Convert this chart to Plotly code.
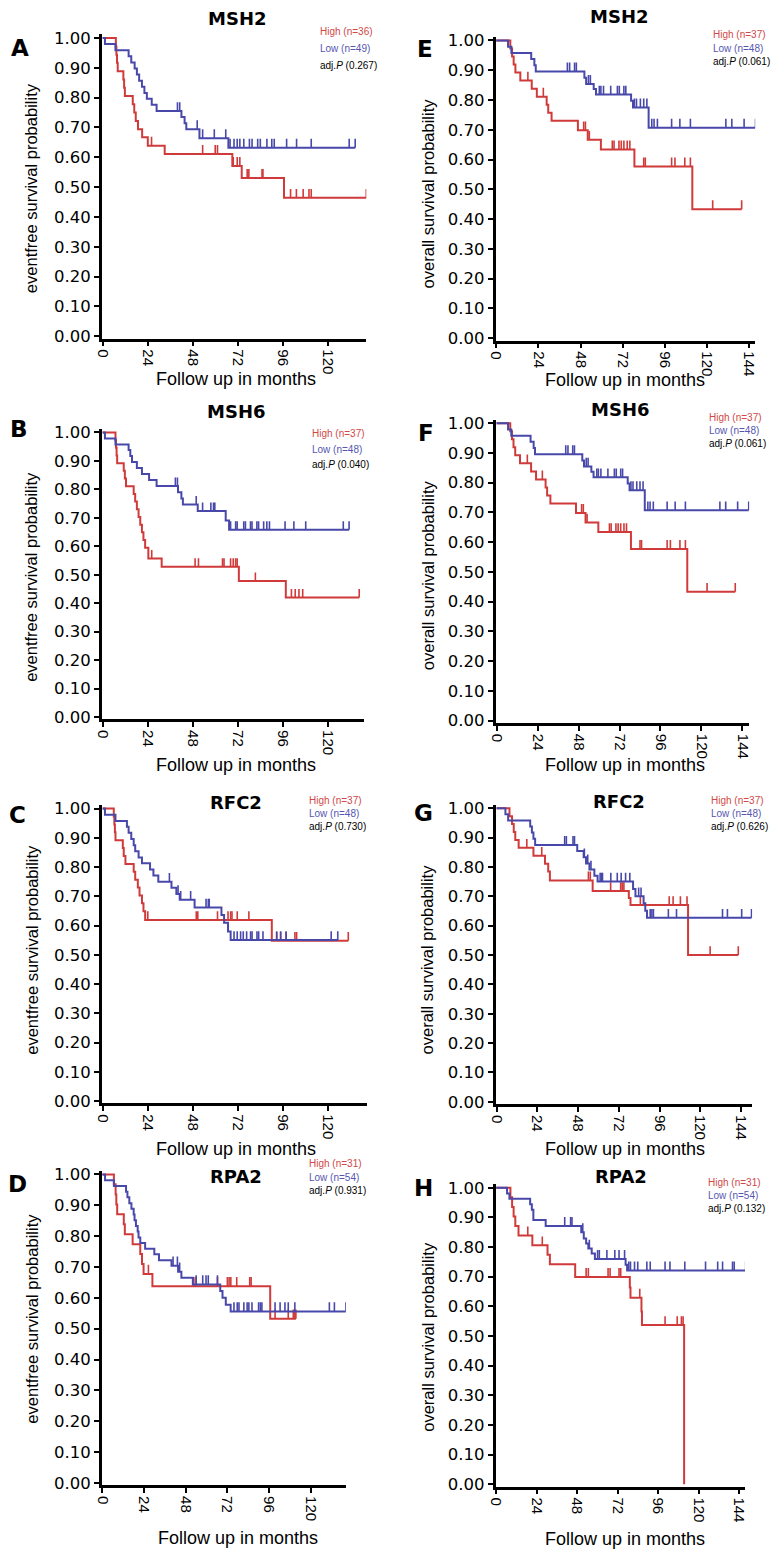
import plotly.graph_objects as go

W, H = 771, 1558

# ---------------- data (months, survival probability) ----------------
xt_efs = [0, 24, 48, 72, 96, 120]
xt_os = [0, 24, 48, 72, 96, 120, 144]
yt = [0.0, 0.1, 0.2, 0.3, 0.4, 0.5, 0.6, 0.7, 0.8, 0.9, 1.0]
yt_text = ["0.00", "0.10", "0.20", "0.30", "0.40", "0.50", "0.60", "0.70", "0.80", "0.90", "1.00"]

# A: MSH2 event-free
A_red_t = [7, 7.3, 7.6, 8, 11, 11.4, 11.8, 16, 16.8, 17.6, 18.8, 21, 24, 33, 69, 74, 96.5]
A_red_s = [0.972, 0.944, 0.917, 0.889, 0.861, 0.833, 0.806, 0.778, 0.75, 0.722, 0.694, 0.667, 0.639, 0.611, 0.571, 0.531, 0.464]
A_red_c = [26, 53.2, 59.9, 61.1, 69.5, 71.6, 73, 76.9, 77.8, 84.8, 85.3, 100, 103.1, 106.7, 109.8, 111, 140.3]
A_blue_t = [1.2, 6.8, 13.8, 15.2, 17, 18.2, 19.4, 20.9, 22.2, 23.5, 26.1, 28.7, 41.9, 43.6, 44.5, 51.5, 66.9]
A_blue_s = [0.980, 0.959, 0.939, 0.918, 0.898, 0.878, 0.857, 0.837, 0.816, 0.796, 0.776, 0.755, 0.735, 0.714, 0.694, 0.664, 0.632]
A_blue_c = [39.8, 41, 50.3, 53.2, 59.4, 65.5, 67.8, 69.9, 71.6, 73, 75.1, 78.1, 79.5, 82.5, 83.9, 87.4, 90, 91.3, 97.9, 103.2, 111, 131.2, 134.4]

# E: MSH2 overall
E_red_t = [8, 9, 9.9, 10.9, 13.7, 20.2, 23.1, 28.7, 29.6, 31.5, 46.5, 52.1, 59.6, 78.7, 111.7]
E_red_s = [0.973, 0.946, 0.919, 0.892, 0.865, 0.838, 0.811, 0.784, 0.757, 0.730, 0.698, 0.666, 0.634, 0.577, 0.433]
E_red_c = [18, 26.8, 49.8, 50.8, 53, 66.1, 67.1, 69.9, 71.2, 72.7, 74.6, 76.1, 84, 84.9, 99.9, 101.8, 107.4, 110.6, 123.3, 139.8]
E_blue_t = [6.7, 8.6, 19.9, 21.7, 22.5, 50.2, 51.2, 55.5, 56.8, 76.8, 77.9, 86.8]
E_blue_s = [0.979, 0.958, 0.938, 0.917, 0.896, 0.875, 0.854, 0.837, 0.818, 0.797, 0.775, 0.707]
E_blue_c = [40.5, 41.8, 44.6, 45.6, 52.5, 53.6, 58.7, 59.6, 61.1, 65.2, 69, 70.1, 72.7, 73.8, 78.7, 79.9, 82.1, 84,
            85.8, 88.6, 89.9, 91.8, 99.9, 104.6, 110.6, 130.8, 134.2, 141.2, 147.7]

# B: MSH6 event-free
B_red_t = [6.8, 7.1, 7.4, 7.7, 11.2, 11.8, 12.4, 16.5, 17.3, 18.2, 19.1, 20, 20.9, 21.7, 22.6, 24.3, 31.4, 72.5, 97.5]
B_red_s = [0.973, 0.946, 0.919, 0.892, 0.865, 0.838, 0.811, 0.784, 0.757, 0.730, 0.703, 0.676, 0.649, 0.622, 0.595, 0.557, 0.528, 0.478, 0.42]
B_red_c = [26.1, 49.2, 51, 63.8, 64.6, 68.1, 69.5, 70.8, 71.6, 81.3, 100.5, 102.5, 104.5, 106.5, 136.6]
B_blue_t = [1.2, 6.8, 13.8, 14.7, 15.6, 18.2, 20.9, 24.7, 28.7, 40.1, 41.9, 42.7, 50.6, 65.5, 67.3]
B_blue_s = [0.979, 0.958, 0.938, 0.917, 0.896, 0.875, 0.854, 0.833, 0.812, 0.790, 0.768, 0.747, 0.724, 0.691, 0.658]
B_blue_c = [38.7, 39.8, 49.8, 53.2, 57.6, 59, 59.7, 68.1, 70.8, 71.6, 75.1, 76, 78.7, 79.5, 82.1, 83, 85.7, 87.4, 88.8,
            97.1, 101.8, 108.1, 128.1, 131.2]

# F: MSH6 overall (same curves as E)
F_red_t, F_red_s, F_red_c = E_red_t, E_red_s, E_red_c
F_blue_t, F_blue_s, F_blue_c = E_blue_t, E_blue_s, E_blue_c

# C: RFC2 event-free
C_red_t = [5.9, 6.2, 6.5, 6.8, 10.7, 11.2, 12.1, 16.5, 17.3, 18.7, 19.6, 20.9, 21.7, 22.6, 90]
C_red_s = [0.973, 0.946, 0.919, 0.892, 0.865, 0.838, 0.811, 0.784, 0.757, 0.730, 0.703, 0.676, 0.649, 0.619, 0.548]
C_red_c = [24, 49.8, 50.6, 61.1, 66.7, 68.1, 68.8, 71.6, 77.8, 92.6, 94.7, 97.6, 102.3, 103.2, 130.7]
C_blue_t = [1.2, 6.8, 12.9, 13.8, 15.2, 16.5, 17.3, 19.1, 20.9, 25.2, 27, 29.6, 36.6, 39.2, 41, 48.9, 63.2, 64.6, 66.7, 68.1]
C_blue_s = [0.979, 0.958, 0.938, 0.917, 0.896, 0.875, 0.854, 0.833, 0.813, 0.792, 0.771, 0.750, 0.729, 0.708, 0.688,
            0.662, 0.636, 0.610, 0.580, 0.551]
C_blue_c = [35.5, 40.1, 41.5, 46.8, 55, 56.2, 56.7, 69.9, 71.6, 73.4, 74.8, 76.6, 78.7, 79.5, 82.1, 83, 85.3, 92.6,
            94.7, 97.6, 121.6, 125.1]

# G: RFC2 overall
G_red_t = [7.6, 9.1, 10.1, 11, 13, 21.7, 28.5, 30.4, 31.4, 56.6, 77.9, 78.9, 112.8]
G_red_s = [0.973, 0.946, 0.919, 0.892, 0.865, 0.838, 0.811, 0.784, 0.754, 0.718, 0.694, 0.670, 0.50]
G_red_c = [17.8, 26.6, 54.1, 55.2, 67.2, 73.1, 74, 75, 84.7, 101.7, 104, 108.3, 112.2, 125.8, 142.4]
G_blue_t = [5.2, 6.8, 19.8, 20.8, 21.7, 22.7, 47.5, 51.3, 52.7, 54.7, 57.6, 59.5, 80.4, 81.8, 86.6, 87.6, 88.6]
G_blue_s = [0.979, 0.958, 0.938, 0.917, 0.896, 0.875, 0.854, 0.833, 0.812, 0.791, 0.770, 0.750, 0.725, 0.700, 0.676,
            0.651, 0.627]
G_blue_c = [40.1, 41.1, 45, 45.9, 51.7, 53.7, 55.6, 61, 61.8, 62.4, 67.3, 71.1, 73.4, 76, 78.5, 83.7, 85.1, 90.5, 91.5,
            92.4, 101.2, 106, 133.1, 136, 144.4, 150.2]

# D: RPA2 event-free
D_red_t = [6.6, 7.6, 8, 8.5, 12.3, 12.9, 17.4, 21.8, 22.8, 23.7, 28.8, 96.7]
D_red_s = [0.968, 0.935, 0.903, 0.871, 0.839, 0.806, 0.774, 0.742, 0.710, 0.677, 0.638, 0.532]
D_red_c = [26.5, 52.7, 54, 66.3, 72, 73, 74, 77.4, 84.9, 85.7, 99.5, 107.1, 110, 110.9, 111.5]
D_blue_t = [1.5, 6.6, 13.6, 14.4, 15.5, 16.7, 18, 18.5, 19.3, 20.3, 20.8, 21.8, 24.6, 29.9, 32.6, 39.8, 43.6, 45.5,
            52.1, 67.9, 69.2, 71.1, 73.9]
D_blue_s = [0.981, 0.963, 0.944, 0.926, 0.907, 0.889, 0.870, 0.852, 0.833, 0.815, 0.796, 0.778, 0.759, 0.741, 0.722,
            0.704, 0.685, 0.665, 0.643, 0.622, 0.600, 0.578, 0.556]
D_blue_c = [40.7, 43.2, 44.5, 54, 57.8, 59.7, 61, 66.3, 75.8, 77.7, 78.7, 81.5, 83.4, 84.4, 86.2, 90, 91, 91.9, 99.5,
            102.4, 105.2, 107.1, 110.9, 130.8, 133.7, 140.3]

# H: RPA2 overall
H_red_t = [8.4, 9.4, 10.3, 11.3, 13.2, 21.4, 30.4, 31.8, 46.8, 79.2, 79.6, 86.1, 86.4, 111.4]
H_red_s = [0.968, 0.935, 0.903, 0.871, 0.839, 0.806, 0.774, 0.742, 0.699, 0.664, 0.629, 0.583, 0.537, 0.0]
H_red_c = [18.7, 27.3, 53.3, 54.6, 66.3, 67.5, 72.8, 73.8, 85.1, 100.1, 107.3, 109.8, 110.8]
H_blue_t = [6.4, 7.8, 20.1, 21.1, 22, 29.3, 50.4, 51.9, 53.3, 54.6, 56.6, 58.5, 76.7, 77.6]
H_blue_s = [0.981, 0.963, 0.944, 0.926, 0.891, 0.871, 0.850, 0.829, 0.812, 0.795, 0.778, 0.760, 0.740, 0.721]
H_blue_c = [40.6, 44.1, 44.9, 51.3, 55.2, 60.1, 61.1, 65.6, 70.3, 72.8, 76.1, 78.6, 79.6, 82, 83.9, 89.3, 91.3, 100.1,
            103, 111.8, 124.1, 131.3, 134.2, 140.1, 141.1, 147.9]

genes = ["MSH2", "MSH6", "RFC2", "RPA2", "MSH2", "MSH6", "RFC2", "RPA2"]
letters = ["A", "B", "C", "D", "E", "F", "G", "H"]
n_high = [36, 37, 37, 31, 37, 37, 37, 31]
n_low = [49, 48, 48, 54, 48, 48, 48, 54]
adj_p = ["0.267", "0.040", "0.730", "0.931", "0.061", "0.061", "0.626", "0.132"]
ylabels = ["eventfree survival probability"] * 4 + ["overall survival probability"] * 4

curves = [
    (A_red_t, A_red_s, A_red_c, A_blue_t, A_blue_s, A_blue_c),
    (B_red_t, B_red_s, B_red_c, B_blue_t, B_blue_s, B_blue_c),
    (C_red_t, C_red_s, C_red_c, C_blue_t, C_blue_s, C_blue_c),
    (D_red_t, D_red_s, D_red_c, D_blue_t, D_blue_s, D_blue_c),
    (E_red_t, E_red_s, E_red_c, E_blue_t, E_blue_s, E_blue_c),
    (F_red_t, F_red_s, F_red_c, F_blue_t, F_blue_s, F_blue_c),
    (G_red_t, G_red_s, G_red_c, G_blue_t, G_blue_s, G_blue_c),
    (H_red_t, H_red_s, H_red_c, H_blue_t, H_blue_s, H_blue_c),
]

# ---------------- layout geometry (pixels) ----------------
geom = [
    dict(xd=(96, 364), xr=(-0.5, 140.3), yd=(28.7, 335.4), title=(233, 12.5), letter=(13, 42), leg=(315, [26, 42.5, 59.5]), yl=(25, 184), xl=(232.5, 376)),
    dict(xd=(96, 362), xr=(-0.5, 139.3), yd=(426.6, 719.3), title=(232.5, 408.5), letter=(12.5, 427), leg=(307, [431, 447, 462]), yl=(25, 576), xl=(232.5, 765)),
    dict(xd=(96, 365), xr=(-0.5, 140.8), yd=(805.8, 1106.7), title=(232, 803), letter=(11, 816), leg=(304, [801, 814, 827]), yl=(25, 952), xl=(232.5, 1153)),
    dict(xd=(96, 343.3), xr=(-0.4, 140.3), yd=(1174.6, 1491.8), title=(232, 1180), letter=(11, 1188), leg=(304, [1167, 1181, 1194]), yl=(25, 1324), xl=(234.5, 1545)),
    dict(xd=(495, 758), xr=(-0.4, 147.5), yd=(31.1, 337.4), title=(620, 11), letter=(423.5, 43), leg=(713, [29, 42.5, 56]), yl=(426.5, 189), xl=(626.5, 377)),
    dict(xd=(495, 752), xr=(-0.6, 148), yd=(417.1, 723.1), title=(621.5, 407), letter=(424, 431), leg=(709, [415, 428.5, 441.5]), yl=(426.5, 574), xl=(626.5, 765)),
    dict(xd=(495, 755), xr=(-0.6, 150.6), yd=(805.4, 1107.4), title=(620, 802), letter=(422, 814), leg=(711, [801, 814, 827]), yl=(425, 961), xl=(626.5, 1153)),
    dict(xd=(495, 747.7), xr=(-0.4, 147.5), yd=(1188.1, 1493.1), title=(622.5, 1180), letter=(422, 1192), leg=(708, [1186, 1200, 1213]), yl=(426.5, 1342), xl=(626, 1546)),
]

RED = "#d03a3a"
BLUE = "#4848aa"
RED_TXT = "#d04848"
BLUE_TXT = "#5656b0"


def px_x(p):
    return p / W


def px_y(p):
    return 1 - p / H


def km_xy(t, s, cens):
    end = max([t[-1]] + list(cens))
    xs = [0] + list(t)
    ys = [1.0] + list(s)
    if end > t[-1]:
        xs.append(end)
        ys.append(s[-1])
    return xs, ys


def surv_at(t, s, c):
    v = 1.0
    for ti, si in zip(t, s):
        if ti <= c:
            v = si
    return v


def cens_xy(t, s, cens, h=0.03):
    xs, ys = [], []
    for c in cens:
        v = surv_at(t, s, c)
        xs += [c, c, None]
        ys += [v, v + h, None]
    return xs, ys


fig = go.Figure()
annotations = []
layout = {}

for i in range(8):
    g = geom[i]
    k = "" if i == 0 else str(i + 1)
    xa, ya = "x" + k, "y" + k
    rt, rs, rc, bt, bs, bc = curves[i]
    for (t, s, c, col) in [(rt, rs, rc, RED), (bt, bs, bc, BLUE)]:
        x, y = km_xy(t, s, c)
        fig.add_trace(go.Scatter(x=x, y=y, mode="lines", line=dict(color=col, width=2, shape="hv"),
                                 xaxis=xa, yaxis=ya, hoverinfo="skip"))
        cx, cy = cens_xy(t, s, c)
        fig.add_trace(go.Scatter(x=cx, y=cy, mode="lines", line=dict(color=col, width=1.6),
                                 xaxis=xa, yaxis=ya, hoverinfo="skip"))
    xt = xt_efs if i < 4 else xt_os
    layout["xaxis" + k] = dict(
        domain=[px_x(g["xd"][0]), px_x(g["xd"][1])], range=list(g["xr"]), anchor=ya,
        tickmode="array", tickvals=xt, ticktext=[str(v) for v in xt], tickangle=90,
        showgrid=False, zeroline=False, showline=True, linecolor="black", linewidth=2.5,
        ticks="outside", ticklen=5, tickwidth=2, tickcolor="black",
        tickfont=dict(family="Liberation Sans, Arial", size=15, color="black"), fixedrange=True)
    layout["yaxis" + k] = dict(
        domain=[px_y(g["yd"][1]), px_y(g["yd"][0])], range=[-0.008, 1.012], anchor=xa,
        tickmode="array", tickvals=yt, ticktext=yt_text,
        showgrid=False, zeroline=False, showline=True, linecolor="black", linewidth=2.5,
        ticks="outside", ticklen=5, tickwidth=2, tickcolor="black",
        tickfont=dict(family="DejaVu Sans", size=16.5, color="black"), fixedrange=True)

    annotations.append(dict(text="<b>%s</b>" % genes[i], x=px_x(g["title"][0]), y=px_y(g["title"][1]),
                            xref="paper", yref="paper", xanchor="center", yanchor="middle", showarrow=False,
                            font=dict(family="DejaVu Sans", size=18, color="black")))
    annotations.append(dict(text="<b>%s</b>" % letters[i], x=px_x(g["letter"][0]), y=px_y(g["letter"][1]),
                            xref="paper", yref="paper", xanchor="center", yanchor="middle", showarrow=False,
                            font=dict(family="DejaVu Sans", size=23, color="black")))
    lx, lys = g["leg"]
    for txt, col, yy in [("High (n=%d)" % n_high[i], RED_TXT, lys[0]),
                         ("Low (n=%d)" % n_low[i], BLUE_TXT, lys[1]),
                         ("adj.<i>P</i> (%s)" % adj_p[i], "black", lys[2])]:
        annotations.append(dict(text=txt, x=px_x(lx), y=px_y(yy), xref="paper", yref="paper",
                                xanchor="left", yanchor="middle", showarrow=False,
                                font=dict(family="Liberation Sans, Arial", size=10, color=col)))
    annotations.append(dict(text=ylabels[i], x=px_x(g["yl"][0]), y=px_y(g["yl"][1]), textangle=-90,
                            xref="paper", yref="paper", xanchor="center", yanchor="middle", showarrow=False,
                            font=dict(family="Liberation Sans, Arial", size=16.5, color="black")))
    annotations.append(dict(text="Follow up in months", x=px_x(g["xl"][0]), y=px_y(g["xl"][1]),
                            xref="paper", yref="paper", xanchor="center", yanchor="middle", showarrow=False,
                            font=dict(family="Liberation Sans, Arial", size=18, color="black")))

fig.update_layout(width=W, height=H, margin=dict(l=0, r=0, t=0, b=0), showlegend=False,
                  plot_bgcolor="white", paper_bgcolor="white", annotations=annotations, **layout)

fig.write_html("out.html", config={"displayModeBar": False},
               post_script="document.body.style.margin='0';document.body.style.overflow='hidden';"
                           "document.documentElement.style.overflow='hidden';")
